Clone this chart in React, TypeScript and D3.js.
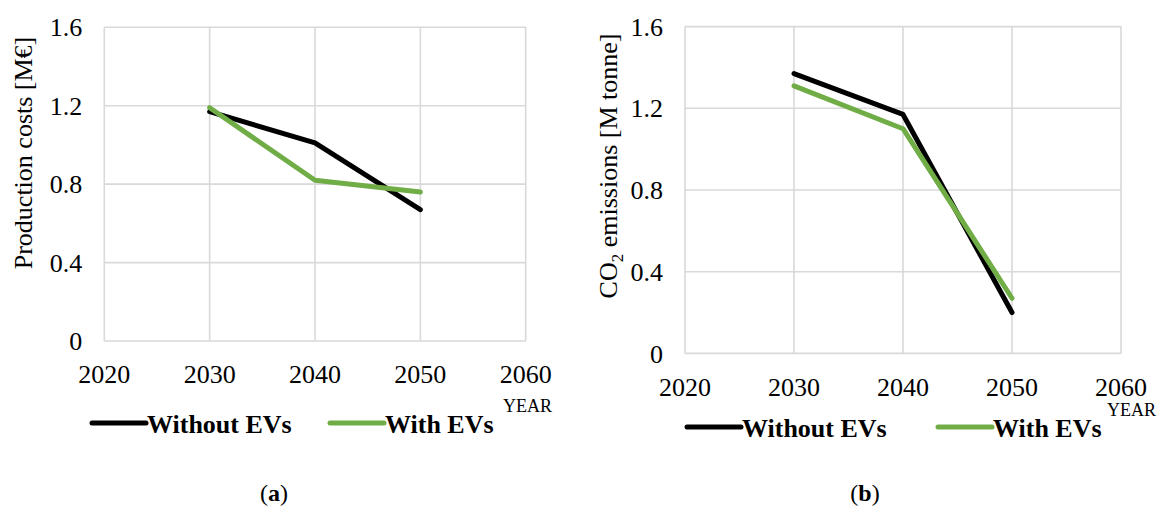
import React from "react";
import * as d3 from "d3";

const years = [2030, 2040, 2050];
const xTicks = [2020, 2030, 2040, 2050, 2060];
const yTicks = [0, 0.4, 0.8, 1.2, 1.6];
const costWithout = [1.17, 1.01, 0.67];
const costWith = [1.19, 0.82, 0.76];
const co2Without = [1.37, 1.17, 0.2];
const co2With = [1.31, 1.1, 0.27];
const seriesNames = ["Without EVs", "With EVs"];
const seriesColors = ["#000000", "#70AD47"];

const FONT = "'Liberation Serif', 'Times New Roman', serif";

type PanelProps = {
  left: number; right: number; top: number; bottom: number;
  title: React.ReactNode; titleX: number; titleY: number;
  a: number[]; b: number[];
  legendY: number; legendX1: number; legendX2: number;
  yearX: number; yearY: number;
  tag: string; tagX: number;
  xLabelY: number;
};

function Panel(p: PanelProps) {
  const x = d3.scaleLinear().domain([2020, 2060]).range([p.left, p.right]);
  const y = d3.scaleLinear().domain([0, 1.6]).range([p.bottom, p.top]);
  const line = d3.line<number>().x((_, i) => x(years[i])).y((d) => y(d));
  const fmt = (d: number) => (d === 0 ? "0" : d.toFixed(1));
  const series = [p.a, p.b];
  const legendXs = [p.legendX1, p.legendX2];
  return (
    <g fontFamily={FONT}>
      {yTicks.map((t) => (
        <line key={"h" + t} x1={p.left} x2={p.right} y1={y(t)} y2={y(t)} stroke="#D9D9D9" strokeWidth={1.6} />
      ))}
      {xTicks.map((t) => (
        <line key={"v" + t} x1={x(t)} x2={x(t)} y1={p.top} y2={p.bottom} stroke="#D9D9D9" strokeWidth={1.6} />
      ))}
      {yTicks.map((t) => (
        <text key={"yl" + t} x={p.left - 22} y={y(t)} dy="0.35em" textAnchor="end" fontSize={26} fill="#000">
          {fmt(t)}
        </text>
      ))}
      {xTicks.map((t) => (
        <text key={"xl" + t} x={x(t)} y={p.xLabelY} textAnchor="middle" fontSize={26} fill="#000">
          {t}
        </text>
      ))}
      {series.map((s, i) => (
        <path key={"s" + i} d={line(s) || ""} fill="none" stroke={seriesColors[i]} strokeWidth={5} strokeLinejoin="round" strokeLinecap="round" />
      ))}
      <text transform={`translate(${p.titleX},${p.titleY}) rotate(-90)`} textAnchor="middle" fontSize={26} fill="#000">
        {p.title}
      </text>
      {seriesNames.map((n, i) => (
        <g key={"lg" + i}>
          <line x1={legendXs[i]} x2={legendXs[i] + 54} y1={p.legendY} y2={p.legendY} stroke={seriesColors[i]} strokeWidth={5} strokeLinecap="round" />
          <text x={legendXs[i] + 55} y={p.legendY + 10} fontSize={26} fontWeight="bold" fill="#000">{n}</text>
        </g>
      ))}
      <text x={p.yearX} y={p.yearY} fontSize={18} fill="#000">YEAR</text>
      <text x={p.tagX} y={501} textAnchor="middle" fontSize={24} fill="#000">
        (<tspan fontWeight="bold">{p.tag}</tspan>)
      </text>
    </g>
  );
}

export default function App() {
  return (
    <svg width={1158} height={508} style={{ position: "absolute", left: 0, top: 0, background: "#fff" }}>
      <rect width={1158} height={508} fill="#fff" />
      <Panel
        left={104.3} right={525.7} top={27.3} bottom={341}
        title="Production costs [M€]" titleX={32} titleY={153}
        a={costWithout} b={costWith}
        legendY={423} legendX1={92} legendX2={330}
        yearX={503} yearY={412}
        tag="a" tagX={274}
        xLabelY={383}
      />
      <Panel
        left={685} right={1121} top={26.6} bottom={353.4}
        title={<>CO<tspan fontSize={17} dy={6}>2</tspan><tspan dy={-6}> emissions [M tonne]</tspan></>}
        titleX={617} titleY={166}
        a={co2Without} b={co2With}
        legendY={427} legendX1={687} legendX2={938}
        yearX={1107} yearY={416}
        tag="b" tagX={865}
        xLabelY={396}
      />
    </svg>
  );
}
